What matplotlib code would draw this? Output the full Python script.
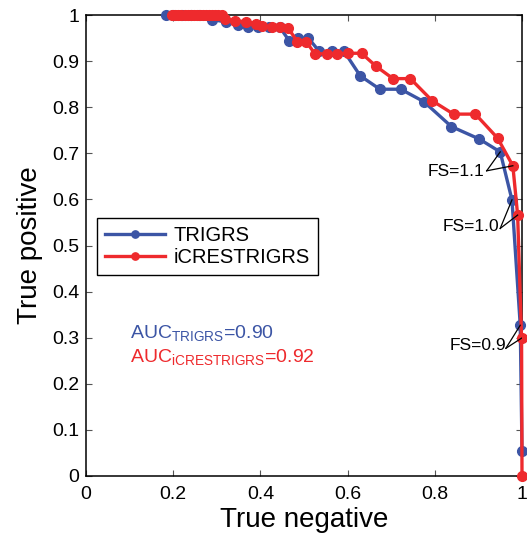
import matplotlib
matplotlib.use("Agg")
import matplotlib.pyplot as plt
from matplotlib.ticker import FixedLocator

plt.rcParams['font.family'] = ['Liberation Sans', 'DejaVu Sans']
plt.rcParams['mathtext.fontset'] = 'custom'
plt.rcParams['mathtext.rm'] = 'Liberation Sans'
plt.rcParams['mathtext.it'] = 'Liberation Sans'
plt.rcParams['mathtext.default'] = 'regular'

# ---------------- data ----------------
trigrs_tn = [0.184, 0.20, 0.22, 0.24, 0.26, 0.288, 0.322, 0.348, 0.371, 0.394, 0.42, 0.445,
             0.466, 0.487, 0.510, 0.535, 0.564, 0.592, 0.629, 0.674, 0.722, 0.775,
             0.838, 0.902, 0.950, 0.977, 0.996, 1.0]
trigrs_tp = [1.0, 1.0, 1.0, 1.0, 1.0, 0.990, 0.985, 0.978, 0.974, 0.974, 0.973, 0.973,
             0.944, 0.950, 0.950, 0.921, 0.921, 0.921, 0.868, 0.839, 0.839, 0.812,
             0.758, 0.731, 0.703, 0.599, 0.327, 0.055]

icrest_tn = [0.198, 0.205, 0.212, 0.219, 0.226, 0.233, 0.240, 0.247, 0.254, 0.261, 0.268,
             0.275, 0.282, 0.289, 0.296, 0.303, 0.311,
             0.318, 0.341, 0.368, 0.391, 0.404, 0.427, 0.446, 0.464, 0.485, 0.505,
             0.525, 0.552, 0.575, 0.602, 0.632, 0.665, 0.704, 0.744, 0.794, 0.843,
             0.893, 0.944, 0.979, 0.990, 0.999, 1.0]
icrest_tp = [1.0, 1.0, 1.0, 1.0, 1.0, 1.0, 1.0, 1.0, 1.0, 1.0, 1.0,
             1.0, 1.0, 1.0, 1.0, 1.0, 1.0,
             0.991, 0.988, 0.985, 0.980, 0.977, 0.975, 0.975, 0.971, 0.942, 0.942,
             0.916, 0.916, 0.916, 0.917, 0.917, 0.889, 0.862, 0.862, 0.814, 0.785,
             0.785, 0.733, 0.673, 0.566, 0.299, 0.0]

series_names = ['TRIGRS', 'iCRESTRIGRS']
auc_values = [0.90, 0.92]

fs_labels = ['FS=1.1', 'FS=1.0', 'FS=0.9']
fs_trigrs_idx = [24, 25, 26]
fs_icrest_idx = [39, 40, 41]
fs_text_x = [0.784, 0.818, 0.833]
fs_text_y = [0.660, 0.542, 0.284]
fs_line_x = [0.919, 0.950, 0.963]
fs_line_y = [0.662, 0.537, 0.277]

xticks = [0, 0.2, 0.4, 0.6, 0.8, 1.0]
xtick_labels = ['0', '0.2', '0.4', '0.6', '0.8', '1']
yticks = [0, 0.1, 0.2, 0.3, 0.4, 0.5, 0.6, 0.7, 0.8, 0.9, 1.0]
ytick_labels = ['0', '0.1', '0.2', '0.3', '0.4', '0.5', '0.6', '0.7', '0.8', '0.9', '1']

# ---------------- style ----------------
BLUE = '#3C55A5'
RED = '#EE2A2D'

fig = plt.figure(figsize=(5.27, 5.36), dpi=100)
ax = fig.add_axes([86 / 527, 1 - 476 / 536, 436 / 527, 461 / 536])

ax.plot(trigrs_tn, trigrs_tp, '-o', color=BLUE, lw=2.4, ms=7, mec=BLUE,
        label=series_names[0], clip_on=False, zorder=3)
ax.plot(icrest_tn, icrest_tp, '-o', color=RED, lw=2.4, ms=7, mec=RED,
        label=series_names[1], clip_on=False, zorder=4)

for lab, ib, ir, tx, ty, lx, ly in zip(fs_labels, fs_trigrs_idx, fs_icrest_idx,
                                        fs_text_x, fs_text_y, fs_line_x, fs_line_y):
    ax.text(tx, ty, lab, fontsize=12.5, ha='left', va='center', color='black', zorder=6)
    ax.plot([lx, trigrs_tn[ib]], [ly, trigrs_tp[ib]], color='black', lw=0.9, zorder=5)
    ax.plot([lx, icrest_tn[ir]], [ly, icrest_tp[ir]], color='black', lw=0.9, zorder=5)

ax.text(0.101, 0.300, r'AUC$_{\mathrm{TRIGRS}}$=%.2f' % auc_values[0], color=BLUE,
        fontsize=14, ha='left', va='baseline')
ax.text(0.101, 0.248, r'AUC$_{\mathrm{iCRESTRIGRS}}$=%.2f' % auc_values[1], color=RED,
        fontsize=14, ha='left', va='baseline')

ax.set_xlim(0, 1)
ax.set_ylim(0, 1)
ax.xaxis.set_major_locator(FixedLocator(xticks))
ax.yaxis.set_major_locator(FixedLocator(yticks))
ax.set_xticklabels(xtick_labels)
ax.set_yticklabels(ytick_labels)
ax.tick_params(direction='in', top=True, right=True, length=4, width=0.8,
               labelsize=14, color='#555555')
ax.tick_params(axis='x', pad=7)
ax.tick_params(axis='y', pad=5)
for s in ax.spines.values():
    s.set_linewidth(1.1)

ax.set_xlabel('True negative', fontsize=20, labelpad=3)
ax.set_ylabel('True positive', fontsize=20, labelpad=6)

leg = ax.legend(loc='upper left', bbox_to_anchor=(0.0245, 0.559), fontsize=14.5,
                frameon=True, fancybox=False, edgecolor='black', framealpha=1,
                handlelength=3.0, handletextpad=0.4, borderpad=0.4,
                labelspacing=0.15, markerscale=0.75, borderaxespad=0)
leg.get_frame().set_linewidth(1.0)
leg.set_zorder(10)

fig.savefig('out.png', dpi=100)
